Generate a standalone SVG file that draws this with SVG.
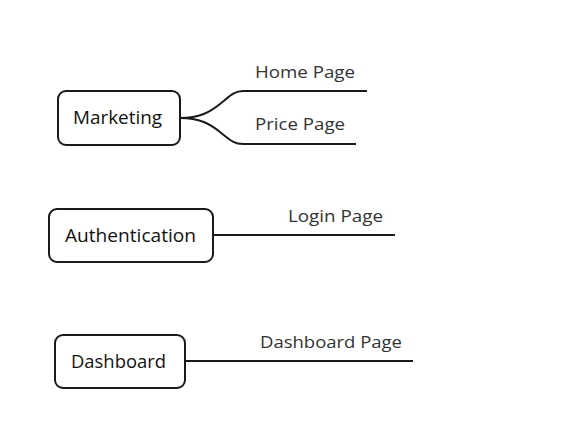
<svg xmlns="http://www.w3.org/2000/svg" width="587" height="436" viewBox="0 0 587 436">
<style>
.box{fill:#fff;stroke:#1a1a1a;stroke-width:2}
.nt{font-family:"Open Sans","Liberation Sans",sans-serif;font-size:17.5px;font-weight:500;fill:#111}
.lt{font-family:"Open Sans","Liberation Sans",sans-serif;font-size:16px;fill:#333}
.ln{fill:none;stroke:#1a1a1a;stroke-width:2}
</style>
<rect width="587" height="436" fill="#fff"/>
<g id="connectors">
<path class="ln" d="M180,118 C200,118 210,112 220,104 C230,96 234,91 243,91 L367,91"/>
<path class="ln" d="M180,118 C200,118 210,124 220,132 C230,140 234,144 243,144 L356,144"/>
<path class="ln" d="M213,235 L395,235"/>
<path class="ln" d="M185,361 L413,361"/>
</g>
<g id="marketing">
<rect class="box" x="58" y="91" width="122" height="54" rx="8"/>
<text class="nt" x="73" y="124" textLength="89" lengthAdjust="spacingAndGlyphs">Marketing</text>
</g>
<g id="home-page"><text class="lt" x="255" y="78" textLength="100" lengthAdjust="spacingAndGlyphs">Home Page</text></g>
<g id="price-page"><text class="lt" x="255" y="130" textLength="90" lengthAdjust="spacingAndGlyphs">Price Page</text></g>
<g id="authentication">
<rect class="box" x="49" y="209" width="164" height="53" rx="8"/>
<text class="nt" x="65" y="242" textLength="131" lengthAdjust="spacingAndGlyphs">Authentication</text>
</g>
<g id="login-page"><text class="lt" x="288" y="222" textLength="95" lengthAdjust="spacingAndGlyphs">Login Page</text></g>
<g id="dashboard">
<rect class="box" x="55" y="335" width="130" height="53" rx="8"/>
<text class="nt" x="71" y="368" textLength="95" lengthAdjust="spacingAndGlyphs">Dashboard</text>
</g>
<g id="dashboard-page"><text class="lt" x="260" y="348" textLength="142" lengthAdjust="spacingAndGlyphs">Dashboard Page</text></g>
</svg>
